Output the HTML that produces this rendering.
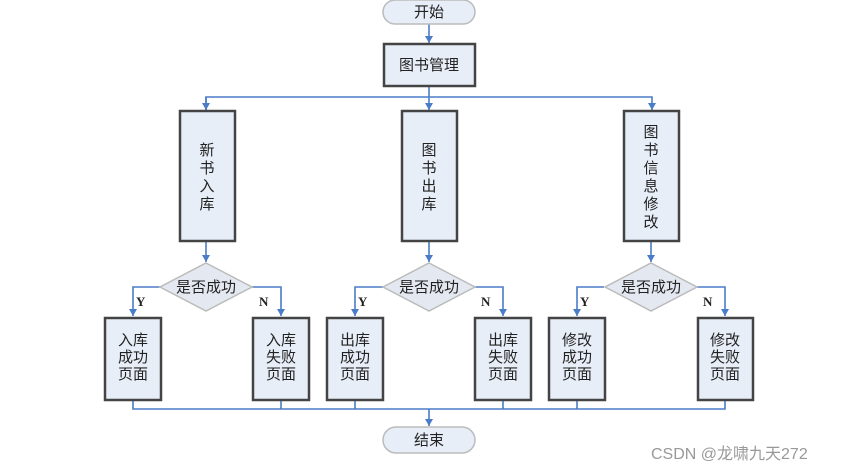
<!DOCTYPE html>
<html><head><meta charset="utf-8"><style>
html,body{margin:0;padding:0;background:#fff;width:853px;height:471px;overflow:hidden}
text{font-family:"Liberation Sans","Noto Sans CJK SC",sans-serif;font-size:15px;fill:#222}
.b{fill:#e8eef8;stroke:#444;stroke-width:2.5}
.l{stroke:#4a7cc8;stroke-width:1.6;fill:none}
.yn{font-family:"Liberation Serif",serif;font-weight:bold;font-size:13px}
</style></head><body>
<svg width="853" height="471" xmlns="http://www.w3.org/2000/svg">
<defs><marker id="a" markerWidth="8" markerHeight="8" refX="4" refY="6" orient="auto" markerUnits="userSpaceOnUse"><path d="M0,0 L8,0 L4,7z" fill="#4a7cc8" transform="rotate(-90 4 4)"/></marker>
<marker id="d" markerWidth="8" markerHeight="7" refX="4" refY="7" markerUnits="userSpaceOnUse"><path d="M0,0 L8,0 L4,7z" fill="#4a7cc8"/></marker></defs>
<!-- connectors -->
<path class="l" d="M429,24 V43" marker-end="url(#d)"/>
<path class="l" d="M429,86 V97"/>
<path class="l" d="M206,110 V97 H652 V110" marker-end="url(#d)"/>
<path class="l" d="M206,97 V110" marker-end="url(#d)"/>
<path class="l" d="M429,97 V110" marker-end="url(#d)"/>
<path class="l" d="M206,241 V262" marker-end="url(#d)"/>
<path class="l" d="M429,241 V262" marker-end="url(#d)"/>
<path class="l" d="M651,241 V262" marker-end="url(#d)"/>
<g>
<path class="l" d="M160,287 H133 V316" marker-end="url(#d)"/><path class="l" d="M252,287 H281 V316" marker-end="url(#d)"/>
<path class="l" d="M383,287 H355 V316" marker-end="url(#d)"/><path class="l" d="M475,287 H503 V316" marker-end="url(#d)"/>
<path class="l" d="M604,287 H577 V316" marker-end="url(#d)"/><path class="l" d="M697,287 H725 V316" marker-end="url(#d)"/>
</g>
<path class="l" d="M133,400 V409 H725 V400 M281,400 V409 M355,400 V409 M503,400 V409 M577,400 V409"/>
<path class="l" d="M429,409 V426" marker-end="url(#d)"/>
<!-- ovals -->
<rect x="383" y="0" width="92" height="24" rx="12" fill="#e8eef8" stroke="#bbb" stroke-width="1.5"/>
<text x="429" y="17" text-anchor="middle">开始</text>
<rect x="383" y="427" width="92" height="26" rx="13" fill="#e8eef8" stroke="#bbb" stroke-width="1.5"/>
<text x="429" y="445" text-anchor="middle">结束</text>
<!-- top box -->
<rect class="b" x="384" y="44" width="91" height="42"/>
<text x="429" y="70" text-anchor="middle">图书管理</text>
<!-- second row -->
<rect class="b" x="180" y="111" width="55" height="130"/>
<text text-anchor="middle"><tspan x="207" y="155">新</tspan><tspan x="207" y="173">书</tspan><tspan x="207" y="191">入</tspan><tspan x="207" y="209">库</tspan></text>
<rect class="b" x="402" y="111" width="55" height="130"/>
<text text-anchor="middle"><tspan x="429" y="155">图</tspan><tspan x="429" y="173">书</tspan><tspan x="429" y="191">出</tspan><tspan x="429" y="209">库</tspan></text>
<rect class="b" x="624" y="111" width="55" height="130"/>
<text text-anchor="middle"><tspan x="651" y="137">图</tspan><tspan x="651" y="155">书</tspan><tspan x="651" y="173">信</tspan><tspan x="651" y="191">息</tspan><tspan x="651" y="209">修</tspan><tspan x="651" y="227">改</tspan></text>
<!-- diamonds -->
<polygon points="206,263 252,287 206,311 160,287" fill="#e4e9f1" stroke="#bbb" stroke-width="1.5"/>
<text x="206" y="292" text-anchor="middle">是否成功</text>
<polygon points="429,263 475,287 429,311 383,287" fill="#e4e9f1" stroke="#bbb" stroke-width="1.5"/>
<text x="429" y="292" text-anchor="middle">是否成功</text>
<polygon points="651,263 697,287 651,311 605,287" fill="#e4e9f1" stroke="#bbb" stroke-width="1.5"/>
<text x="651" y="292" text-anchor="middle">是否成功</text>
<text class="yn" x="136" y="306">Y</text><text class="yn" x="259" y="306">N</text>
<text class="yn" x="358" y="306">Y</text><text class="yn" x="481" y="306">N</text>
<text class="yn" x="580" y="306">Y</text><text class="yn" x="703" y="306">N</text>
<!-- bottom boxes -->
<rect class="b" x="105" y="318" width="56" height="82"/>
<text text-anchor="middle"><tspan x="133" y="345">入库</tspan><tspan x="133" y="362">成功</tspan><tspan x="133" y="379">页面</tspan></text>
<rect class="b" x="253" y="318" width="56" height="82"/>
<text text-anchor="middle"><tspan x="281" y="345">入库</tspan><tspan x="281" y="362">失败</tspan><tspan x="281" y="379">页面</tspan></text>
<rect class="b" x="327" y="318" width="56" height="82"/>
<text text-anchor="middle"><tspan x="355" y="345">出库</tspan><tspan x="355" y="362">成功</tspan><tspan x="355" y="379">页面</tspan></text>
<rect class="b" x="475" y="318" width="56" height="82"/>
<text text-anchor="middle"><tspan x="503" y="345">出库</tspan><tspan x="503" y="362">失败</tspan><tspan x="503" y="379">页面</tspan></text>
<rect class="b" x="549" y="318" width="56" height="82"/>
<text text-anchor="middle"><tspan x="577" y="345">修改</tspan><tspan x="577" y="362">成功</tspan><tspan x="577" y="379">页面</tspan></text>
<rect class="b" x="698" y="318" width="55" height="82"/>
<text text-anchor="middle"><tspan x="725" y="345">修改</tspan><tspan x="725" y="362">失败</tspan><tspan x="725" y="379">页面</tspan></text>
<text x="651" y="459" style="font-size:16px;fill:#999">CSDN @龙啸九天272</text>
</svg>
</body></html>
